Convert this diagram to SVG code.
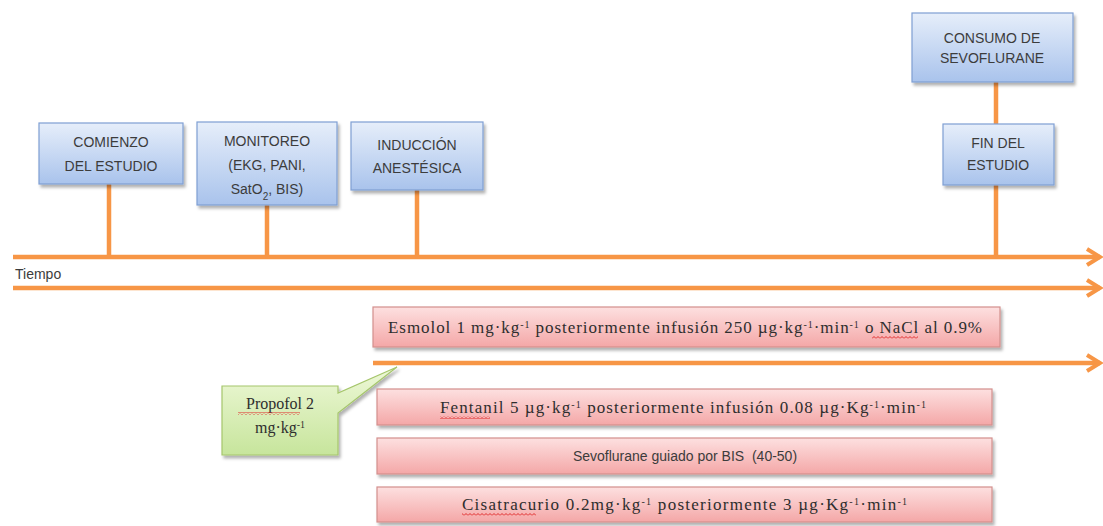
<svg xmlns="http://www.w3.org/2000/svg" width="1103" height="526" viewBox="0 0 1103 526">
<defs>
  <linearGradient id="gBlue" x1="0" y1="0" x2="0" y2="1">
    <stop offset="0" stop-color="#e6eefa"/>
    <stop offset="1" stop-color="#a9c3ec"/>
  </linearGradient>
  <linearGradient id="gPink" x1="0" y1="0" x2="0" y2="1">
    <stop offset="0" stop-color="#fde0e0"/>
    <stop offset="1" stop-color="#f4a7a7"/>
  </linearGradient>
  <linearGradient id="gGreen" x1="0" y1="0" x2="0" y2="1">
    <stop offset="0" stop-color="#eef8d8"/>
    <stop offset="1" stop-color="#c7e59c"/>
  </linearGradient>
  <filter id="shadow" x="-10%" y="-20%" width="120%" height="150%">
    <feDropShadow dx="2" dy="3" stdDeviation="1.8" flood-color="#000" flood-opacity="0.3"/>
  </filter>
  <marker id="arrow" markerUnits="userSpaceOnUse" markerWidth="20" markerHeight="22" refX="16" refY="10" orient="auto">
    <path d="M3,2 L16,10 L3,18" fill="none" stroke="#F79646" stroke-width="4" stroke-linejoin="miter"/>
  </marker>
  <pattern id="wavy" width="4" height="3" patternUnits="userSpaceOnUse">
    <path d="M0,2.5 L2,0.5 L4,2.5" fill="none" stroke="#e02a2a" stroke-width="1"/>
  </pattern>
</defs>
<style>
  .blue { fill: url(#gBlue); stroke: #7f9fd3; stroke-width: 1.2; filter: url(#shadow); }
  .pink { fill: url(#gPink); stroke: #d38f8d; stroke-width: 1.2; filter: url(#shadow); }
  .green { fill: url(#gGreen); stroke: #a6c66c; stroke-width: 1.2; filter: url(#shadow); }
  .lbl { font-family: "Liberation Sans", Arial, sans-serif; font-size: 14px; fill: #3c3c3c; text-anchor: middle; }
  .ser { font-family: "Liberation Serif", "Times New Roman", serif; font-size: 17px; fill: #2e2e2e; }
  .sans { font-family: "Liberation Sans", Arial, sans-serif; font-size: 14px; fill: #3c3c3c; white-space: pre; }
  .ln { stroke: #F79646; stroke-width: 4.5; fill: none; }
  .sup { font-size: 10px; }
</style>

<g id="connectors">
  <line class="ln" x1="13" y1="257" x2="1100" y2="257" marker-end="url(#arrow)"/>
  <line class="ln" x1="13" y1="288" x2="1100" y2="288" marker-end="url(#arrow)"/>
  <line class="ln" x1="373" y1="363" x2="1100" y2="363" marker-end="url(#arrow)"/>
  <line class="ln" x1="109" y1="184" x2="109" y2="257"/>
  <line class="ln" x1="267" y1="205" x2="267" y2="257"/>
  <line class="ln" x1="417" y1="190" x2="417" y2="257"/>
  <line class="ln" x1="996" y1="185" x2="996" y2="257"/>
  <line class="ln" x1="996" y1="82" x2="996" y2="124"/>
</g>

<g id="tiempo">
  <text class="sans" x="15" y="279">Tiempo</text>
</g>

<g id="comienzo">
  <rect class="blue" x="39" y="123" width="144" height="61"/>
  <text class="lbl" x="111" y="147">COMIENZO</text>
  <text class="lbl" x="111" y="171">DEL ESTUDIO</text>
</g>

<g id="monitoreo">
  <rect class="blue" x="197" y="122" width="140" height="83"/>
  <text class="lbl" x="267" y="146">MONITOREO</text>
  <text class="lbl" x="267" y="170">(EKG, PANI,</text>
  <text class="lbl" x="267" y="194">SatO<tspan font-size="10" baseline-shift="sub">2</tspan>, BIS)</text>
</g>

<g id="induccion">
  <rect class="blue" x="351" y="122" width="132" height="68"/>
  <text class="lbl" x="417" y="150">INDUCCIÓN</text>
  <text class="lbl" x="417" y="173">ANESTÉSICA</text>
</g>

<g id="consumo">
  <rect class="blue" x="912" y="13" width="161" height="69"/>
  <text class="lbl" x="992" y="43">CONSUMO DE</text>
  <text class="lbl" x="992" y="63">SEVOFLURANE</text>
</g>

<g id="fin">
  <rect class="blue" x="943" y="124" width="111" height="61"/>
  <text class="lbl" x="998" y="148">FIN DEL</text>
  <text class="lbl" x="998" y="170">ESTUDIO</text>
</g>

<g id="esmolol">
  <rect class="pink" x="373" y="307" width="627" height="40"/>
  <text class="ser" x="388" y="333" textLength="594" lengthAdjust="spacing">Esmolol 1 mg·kg<tspan class="sup" baseline-shift="super">-1</tspan> posteriormente infusión 250 µg·kg<tspan class="sup" baseline-shift="super">-1</tspan>·min<tspan class="sup" baseline-shift="super">-1</tspan> o NaCl al 0.9%</text>
  <rect x="872" y="336" width="46" height="3" fill="url(#wavy)"/>
</g>

<g id="propofol">
  <path class="green" d="M222,386 H338 V393 L397,367 L338,413 V455 H222 Z"/>
  <text class="ser" x="280" y="409" text-anchor="middle" style="font-size:16px">Propofol 2</text>
  <text class="ser" x="280" y="433" text-anchor="middle" style="font-size:16px">mg·kg<tspan class="sup" baseline-shift="super">-1</tspan></text>
  <rect x="238" y="412" width="62" height="3" fill="url(#wavy)"/>
</g>

<g id="fentanil">
  <rect class="pink" x="377" y="389" width="615" height="36"/>
  <text class="ser" x="440" y="413" textLength="486" lengthAdjust="spacing">Fentanil 5 µg·kg<tspan class="sup" baseline-shift="super">-1</tspan> posteriormente infusión 0.08 µg·Kg<tspan class="sup" baseline-shift="super">-1</tspan>·min<tspan class="sup" baseline-shift="super">-1</tspan></text>
  <rect x="440" y="416" width="50" height="3" fill="url(#wavy)"/>
</g>

<g id="sevoflurane">
  <rect class="pink" x="377" y="438" width="615" height="36"/>
  <text class="sans" x="685" y="461" text-anchor="middle">Sevoflurane guiado por BIS  (40-50)</text>
</g>

<g id="cisatracurio">
  <rect class="pink" x="377" y="487" width="615" height="35"/>
  <text class="ser" x="462" y="510" textLength="445" lengthAdjust="spacing">Cisatracurio 0.2mg·kg<tspan class="sup" baseline-shift="super">-1</tspan> posteriormente 3 µg·Kg<tspan class="sup" baseline-shift="super">-1</tspan>·min<tspan class="sup" baseline-shift="super">-1</tspan></text>
  <rect x="462" y="513" width="74" height="3" fill="url(#wavy)"/>
</g>
</svg>
